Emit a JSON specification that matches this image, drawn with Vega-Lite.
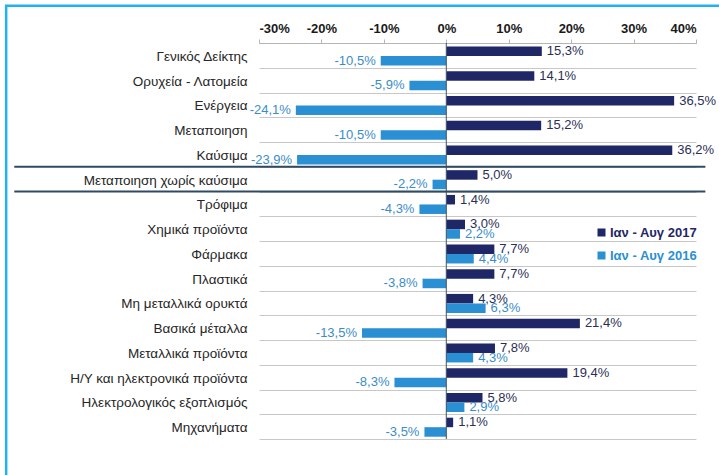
{
  "$schema": "https://vega.github.io/schema/vega-lite/v6.json",
  "width": 437,
  "height": 396,
  "autosize": "none",
  "padding": {"left": 259, "top": 43, "right": 23, "bottom": 36},
  "background": "white",
  "config": {
    "font": "Liberation Sans",
    "view": {"stroke": null},
    "locale": {"number": {"decimal": ",", "thousands": ".", "grouping": [3], "currency": ["", " €"], "minus": "-"}}
  },
  "datasets": {
    "main": [
      {"cat": "Γενικός Δείκτης", "s": "Ιαν - Αυγ 2017", "v": 0.153},
      {"cat": "Γενικός Δείκτης", "s": "Ιαν - Αυγ 2016", "v": -0.105},
      {"cat": "Ορυχεία - Λατομεία", "s": "Ιαν - Αυγ 2017", "v": 0.141},
      {"cat": "Ορυχεία - Λατομεία", "s": "Ιαν - Αυγ 2016", "v": -0.059},
      {"cat": "Ενέργεια", "s": "Ιαν - Αυγ 2017", "v": 0.365},
      {"cat": "Ενέργεια", "s": "Ιαν - Αυγ 2016", "v": -0.241},
      {"cat": "Μεταποιηση", "s": "Ιαν - Αυγ 2017", "v": 0.152},
      {"cat": "Μεταποιηση", "s": "Ιαν - Αυγ 2016", "v": -0.105},
      {"cat": "Καύσιμα", "s": "Ιαν - Αυγ 2017", "v": 0.362},
      {"cat": "Καύσιμα", "s": "Ιαν - Αυγ 2016", "v": -0.239},
      {"cat": "Μεταποιηση χωρίς καύσιμα", "s": "Ιαν - Αυγ 2017", "v": 0.05},
      {"cat": "Μεταποιηση χωρίς καύσιμα", "s": "Ιαν - Αυγ 2016", "v": -0.022},
      {"cat": "Τρόφιμα", "s": "Ιαν - Αυγ 2017", "v": 0.014},
      {"cat": "Τρόφιμα", "s": "Ιαν - Αυγ 2016", "v": -0.043},
      {"cat": "Χημικά προϊόντα", "s": "Ιαν - Αυγ 2017", "v": 0.03},
      {"cat": "Χημικά προϊόντα", "s": "Ιαν - Αυγ 2016", "v": 0.022},
      {"cat": "Φάρμακα", "s": "Ιαν - Αυγ 2017", "v": 0.077},
      {"cat": "Φάρμακα", "s": "Ιαν - Αυγ 2016", "v": 0.044},
      {"cat": "Πλαστικά", "s": "Ιαν - Αυγ 2017", "v": 0.077},
      {"cat": "Πλαστικά", "s": "Ιαν - Αυγ 2016", "v": -0.038},
      {"cat": "Μη μεταλλικά ορυκτά", "s": "Ιαν - Αυγ 2017", "v": 0.043},
      {"cat": "Μη μεταλλικά ορυκτά", "s": "Ιαν - Αυγ 2016", "v": 0.063},
      {"cat": "Βασικά μέταλλα", "s": "Ιαν - Αυγ 2017", "v": 0.214},
      {"cat": "Βασικά μέταλλα", "s": "Ιαν - Αυγ 2016", "v": -0.135},
      {"cat": "Μεταλλικά προϊόντα", "s": "Ιαν - Αυγ 2017", "v": 0.078},
      {"cat": "Μεταλλικά προϊόντα", "s": "Ιαν - Αυγ 2016", "v": 0.043},
      {"cat": "Η/Υ και ηλεκτρονικά προϊόντα", "s": "Ιαν - Αυγ 2017", "v": 0.194},
      {"cat": "Η/Υ και ηλεκτρονικά προϊόντα", "s": "Ιαν - Αυγ 2016", "v": -0.083},
      {"cat": "Ηλεκτρολογικός εξοπλισμός", "s": "Ιαν - Αυγ 2017", "v": 0.058},
      {"cat": "Ηλεκτρολογικός εξοπλισμός", "s": "Ιαν - Αυγ 2016", "v": 0.029},
      {"cat": "Μηχανήματα", "s": "Ιαν - Αυγ 2017", "v": 0.011},
      {"cat": "Μηχανήματα", "s": "Ιαν - Αυγ 2016", "v": -0.035}
    ]
  },
  "resolve": {"scale": {"y": "independent", "x": "independent"}},
  "layer": [
    {
      "data": {"values": [{"frame": "border"}]},
      "mark": {"type": "rect", "fill": "transparent", "stroke": "#1fb2ef", "strokeWidth": 2.5, "clip": false},
      "encoding": {
        "x": {"datum": -0.705, "type": "quantitative", "scale": {"domain": [-0.3, 0.4], "nice": false, "zero": false}, "axis": null},
        "x2": {"datum": 0.7},
        "y": {"datum": -37.2, "type": "quantitative", "scale": {"domain": [0, 396], "reverse": true, "nice": false, "zero": false}, "axis": null},
        "y2": {"datum": 520}
      }
    },
    {
      "data": {"name": "main"},
      "layer": [
        {
          "mark": {"type": "bar"},
          "encoding": {
            "x": {
              "field": "v", "type": "quantitative",
              "scale": {"domain": [-0.3, 0.4], "nice": false, "zero": false},
              "axis": {
                "orient": "top", "title": null, "values": [-0.3, -0.2, -0.1, 0, 0.1, 0.2, 0.3, 0.4],
                "format": ".0%", "grid": false, "labelFontSize": 13, "labelFontWeight": "bold",
                "labelColor": "#1a1a1a", "tickColor": "#b5b5b5", "tickSize": 4, "domainColor": "#b5b5b5",
                "labelPadding": 4
              }
            },
            "y": {
              "field": "cat", "type": "nominal",
              "sort": ["Γενικός Δείκτης", "Ορυχεία - Λατομεία", "Ενέργεια", "Μεταποιηση", "Καύσιμα", "Μεταποιηση χωρίς καύσιμα", "Τρόφιμα", "Χημικά προϊόντα", "Φάρμακα", "Πλαστικά", "Μη μεταλλικά ορυκτά", "Βασικά μέταλλα", "Μεταλλικά προϊόντα", "Η/Υ και ηλεκτρονικά προϊόντα", "Ηλεκτρολογικός εξοπλισμός", "Μηχανήματα"],
              "scale": {
                "domain": ["Γενικός Δείκτης", "Ορυχεία - Λατομεία", "Ενέργεια", "Μεταποιηση", "Καύσιμα", "Μεταποιηση χωρίς καύσιμα", "Τρόφιμα", "Χημικά προϊόντα", "Φάρμακα", "Πλαστικά", "Μη μεταλλικά ορυκτά", "Βασικά μέταλλα", "Μεταλλικά προϊόντα", "Η/Υ και ηλεκτρονικά προϊόντα", "Ηλεκτρολογικός εξοπλισμός", "Μηχανήματα"],
                "paddingInner": 0, "paddingOuter": 0
              },
              "axis": {
                "title": null, "ticks": false, "tickSize": 0, "domain": false, "grid": true, "tickBand": "extent",
                "gridColor": "#c8c8c8", "gridWidth": 1, "labelFontSize": 13.5, "labelColor": "#262626",
                "labelPadding": 12, "labelLimit": 300, "labelOffset": 1
              }
            },
            "yOffset": {
              "field": "s", "type": "nominal",
              "scale": {"domain": ["Ιαν - Αυγ 2017", "Ιαν - Αυγ 2016"], "paddingInner": 0, "paddingOuter": 0.3, "align": 0.6}
            },
            "color": {
              "field": "s", "type": "nominal",
              "scale": {"domain": ["Ιαν - Αυγ 2017", "Ιαν - Αυγ 2016"], "range": ["#1f2767", "#2b8fd3"]},
              "legend": {
                "orient": "none", "legendX": 336, "legendY": 183, "title": null, "symbolType": "square",
                "symbolSize": 64, "symbolStrokeWidth": 0, "labelFontSize": 13, "labelFontWeight": "bold",
                "labelOffset": 2, "rowPadding": 9, "padding": 0,
                "encode": {"labels": {"update": {"fill": {"signal": "datum.value == 'Ιαν - Αυγ 2017' ? '#1f2767' : '#2b8fd3'"}}}}
              }
            }
          }
        },
        {
          "data": {"values": [{"v": 0}]},
          "mark": {"type": "rule", "color": "#3f5368", "strokeWidth": 1},
          "encoding": {"x": {"field": "v", "type": "quantitative"}}
        },
        {
          "data": {"values": [{"cat": "Καύσιμα"}, {"cat": "Μεταποιηση χωρίς καύσιμα"}]},
          "mark": {"type": "rule", "color": "#2f4a63", "strokeWidth": 2, "clip": false},
          "encoding": {
            "y": {"field": "cat", "type": "nominal", "bandPosition": 1, "sort": ["Γενικός Δείκτης", "Ορυχεία - Λατομεία", "Ενέργεια", "Μεταποιηση", "Καύσιμα", "Μεταποιηση χωρίς καύσιμα", "Τρόφιμα", "Χημικά προϊόντα", "Φάρμακα", "Πλαστικά", "Μη μεταλλικά ορυκτά", "Βασικά μέταλλα", "Μεταλλικά προϊόντα", "Η/Υ και ηλεκτρονικά προϊόντα", "Ηλεκτρολογικός εξοπλισμός", "Μηχανήματα"]},
            "x": {"datum": -0.692, "type": "quantitative"},
            "x2": {"datum": 0.415}
          }
        },
        {
          "transform": [{"filter": "datum.s == 'Ιαν - Αυγ 2017'"}],
          "mark": {"type": "text", "align": "left", "dx": 5, "baseline": "middle", "fontSize": 13, "fontWeight": "normal", "color": "#2b2f55"},
          "encoding": {
            "x": {"field": "v", "type": "quantitative"},
            "y": {"field": "cat", "type": "nominal", "sort": ["Γενικός Δείκτης", "Ορυχεία - Λατομεία", "Ενέργεια", "Μεταποιηση", "Καύσιμα", "Μεταποιηση χωρίς καύσιμα", "Τρόφιμα", "Χημικά προϊόντα", "Φάρμακα", "Πλαστικά", "Μη μεταλλικά ορυκτά", "Βασικά μέταλλα", "Μεταλλικά προϊόντα", "Η/Υ και ηλεκτρονικά προϊόντα", "Ηλεκτρολογικός εξοπλισμός", "Μηχανήματα"]},
            "yOffset": {"field": "s", "type": "nominal"},
            "text": {"field": "v", "type": "quantitative", "format": ".1%"}
          }
        },
        {
          "transform": [{"filter": "datum.s == 'Ιαν - Αυγ 2016' && datum.v < 0"}],
          "mark": {"type": "text", "align": "right", "dx": -5, "baseline": "middle", "fontSize": 13, "fontWeight": "normal", "color": "#3a8dc8"},
          "encoding": {
            "x": {"field": "v", "type": "quantitative"},
            "y": {"field": "cat", "type": "nominal", "sort": ["Γενικός Δείκτης", "Ορυχεία - Λατομεία", "Ενέργεια", "Μεταποιηση", "Καύσιμα", "Μεταποιηση χωρίς καύσιμα", "Τρόφιμα", "Χημικά προϊόντα", "Φάρμακα", "Πλαστικά", "Μη μεταλλικά ορυκτά", "Βασικά μέταλλα", "Μεταλλικά προϊόντα", "Η/Υ και ηλεκτρονικά προϊόντα", "Ηλεκτρολογικός εξοπλισμός", "Μηχανήματα"]},
            "yOffset": {"field": "s", "type": "nominal"},
            "text": {"field": "v", "type": "quantitative", "format": ".1%"}
          }
        },
        {
          "transform": [{"filter": "datum.s == 'Ιαν - Αυγ 2016' && datum.v >= 0"}],
          "mark": {"type": "text", "align": "left", "dx": 5, "baseline": "middle", "fontSize": 13, "fontWeight": "normal", "color": "#3a8dc8"},
          "encoding": {
            "x": {"field": "v", "type": "quantitative"},
            "y": {"field": "cat", "type": "nominal", "sort": ["Γενικός Δείκτης", "Ορυχεία - Λατομεία", "Ενέργεια", "Μεταποιηση", "Καύσιμα", "Μεταποιηση χωρίς καύσιμα", "Τρόφιμα", "Χημικά προϊόντα", "Φάρμακα", "Πλαστικά", "Μη μεταλλικά ορυκτά", "Βασικά μέταλλα", "Μεταλλικά προϊόντα", "Η/Υ και ηλεκτρονικά προϊόντα", "Ηλεκτρολογικός εξοπλισμός", "Μηχανήματα"]},
            "yOffset": {"field": "s", "type": "nominal"},
            "text": {"field": "v", "type": "quantitative", "format": ".1%"}
          }
        }
      ]
    }
  ]
}
